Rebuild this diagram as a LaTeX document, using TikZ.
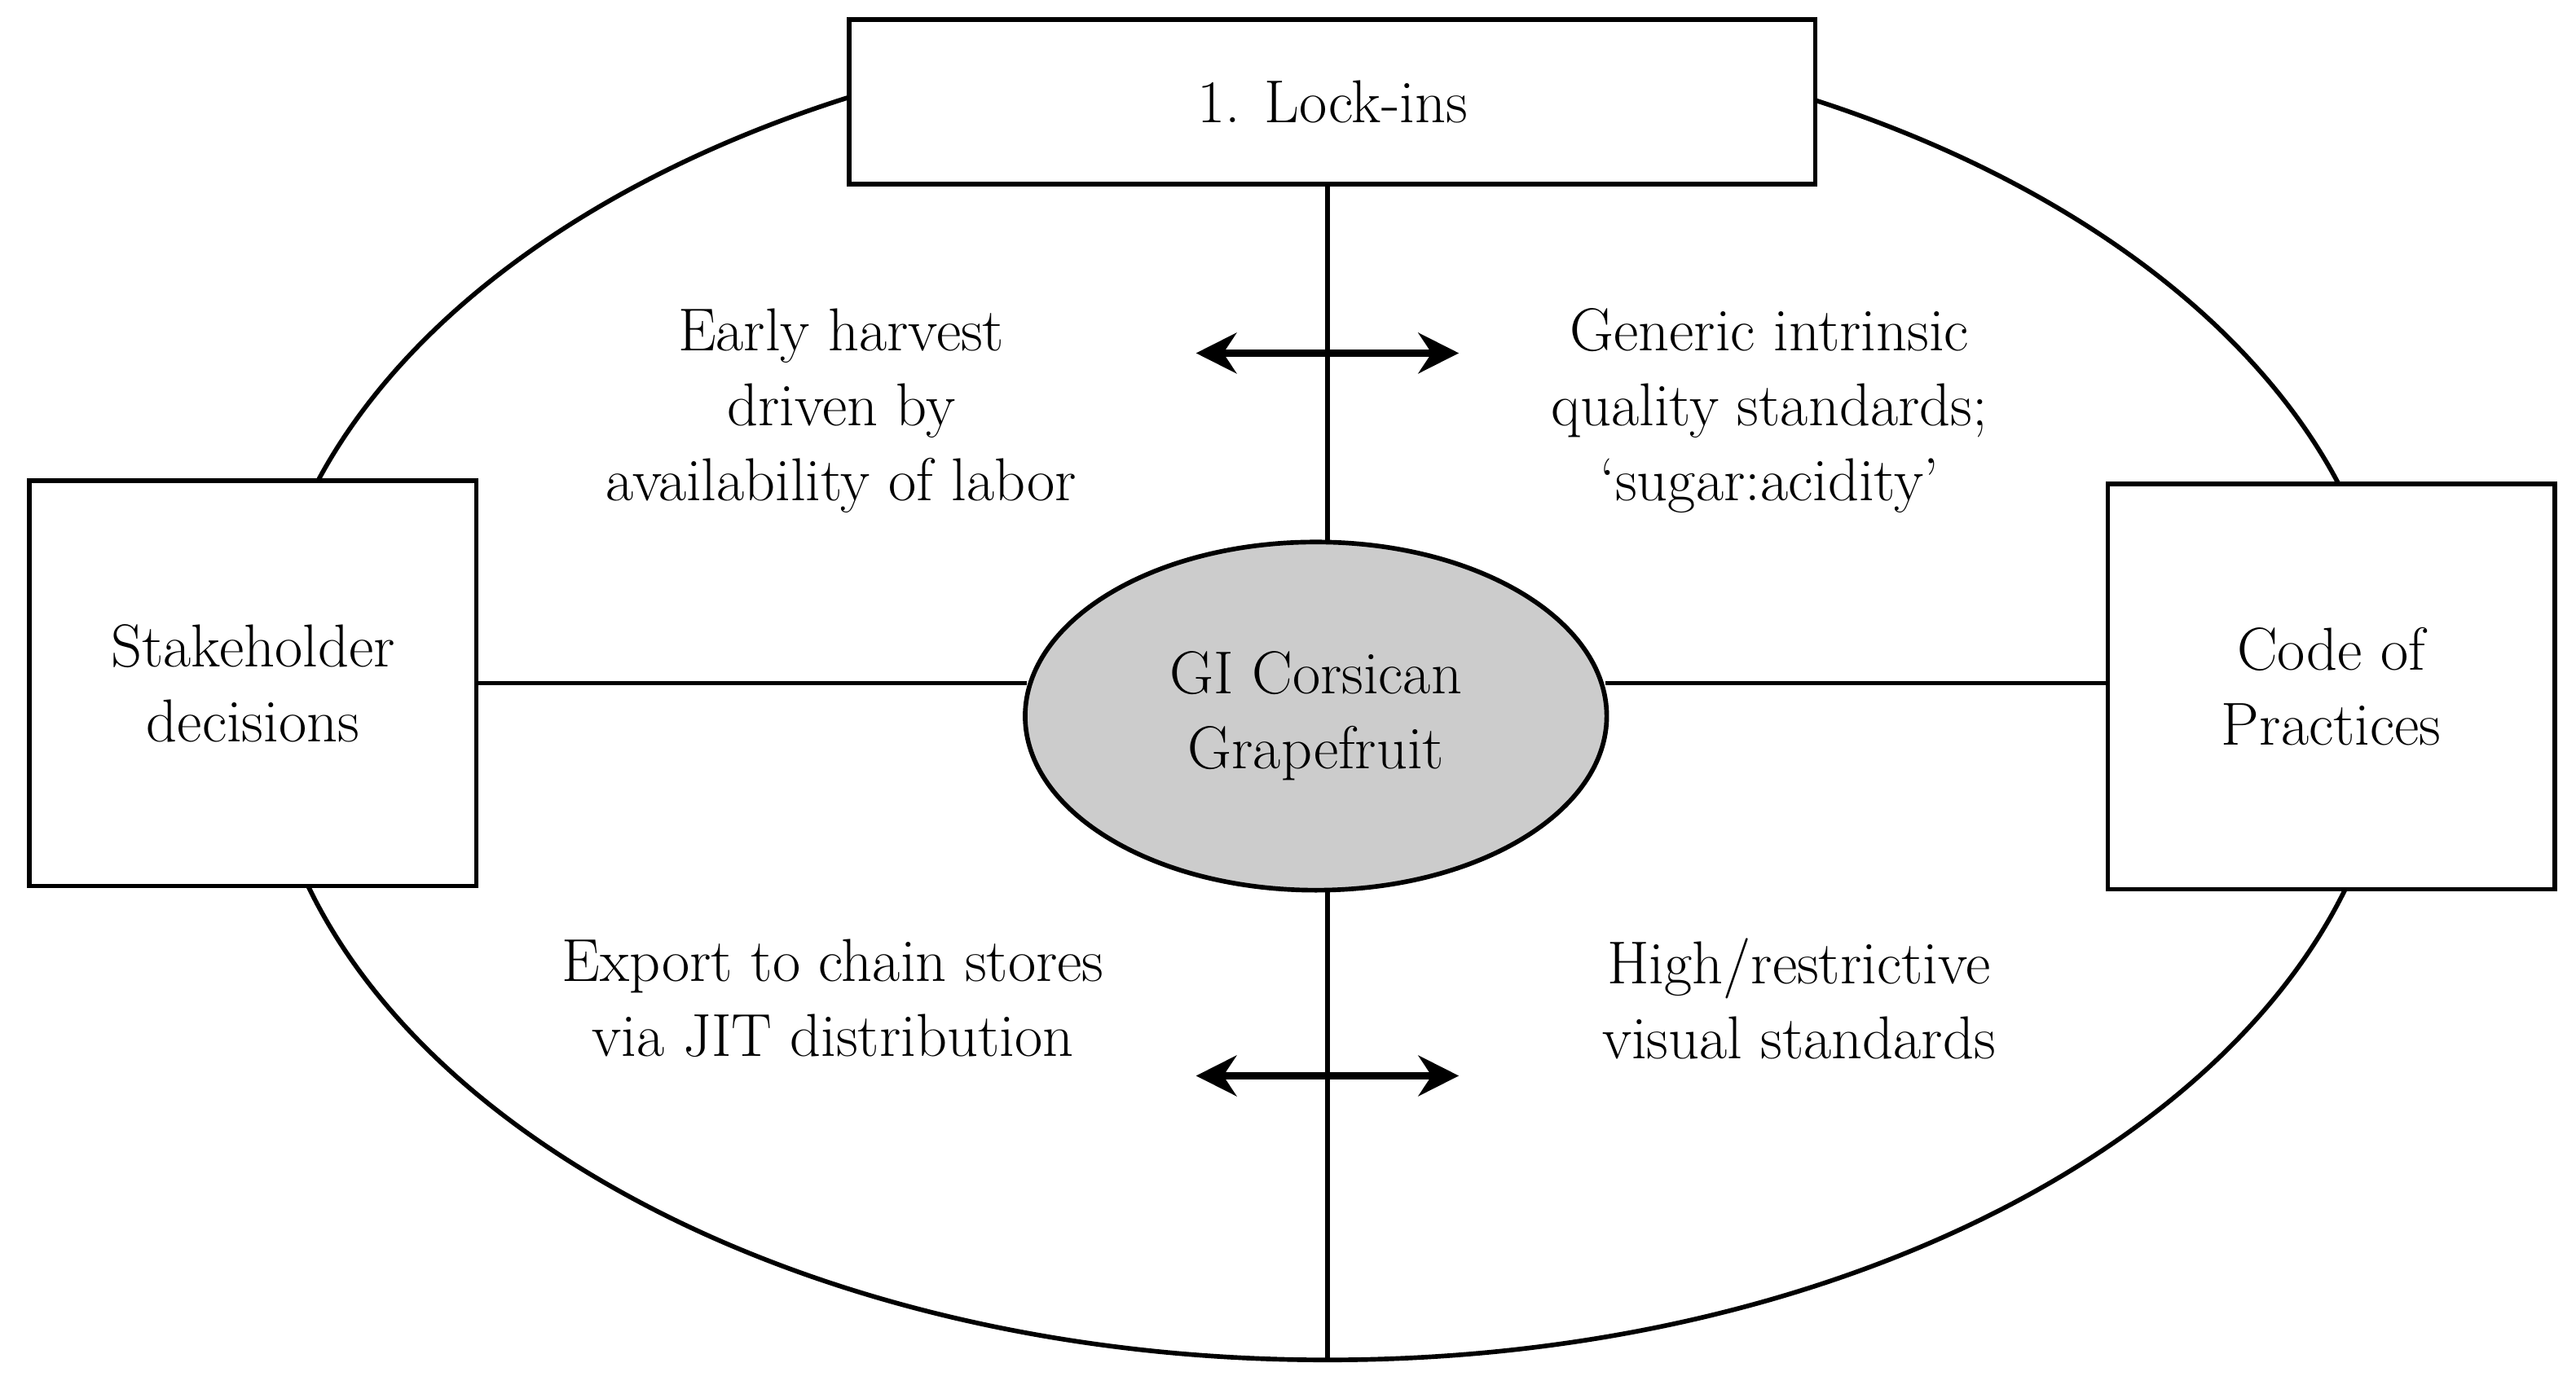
\documentclass[tikz,border=0pt]{standalone}
\usetikzlibrary{shapes.geometric,arrows.meta}
\begin{document}
\begin{tikzpicture}[x=0.02cm,y=-0.02cm,
  every node/.style={font=\fontsize{21}{26}\selectfont},
  ln/.style={line width=1.6pt},
  box/.style={draw,line width=1.6pt,fill=white,align=center,inner sep=0pt},
  lbl/.style={align=center},
  dbl/.style={line width=2.6pt,{Stealth[length=14pt,width=14pt]}-{Stealth[length=14pt,width=14pt]}}]
\useasboundingbox (0,0) rectangle (1568,843);
\draw[ln] (808,422) ellipse [x radius=648, y radius=406];
\coordinate (bot) at (808,828);
\node[box,minimum width=588*0.02cm,minimum height=100*0.02cm] (lock) at (811,62) {1. Lock-ins};
\node[box,minimum width=272*0.02cm,minimum height=247*0.02cm] (stake) at (154,416) {Stakeholder\\decisions};
\node[box,minimum width=272*0.02cm,minimum height=247*0.02cm] (code) at (1419,418) {Code of\\Practices};
\node[draw,ellipse,line width=1.6pt,fill=black!20,minimum width=354*0.02cm,minimum height=212*0.02cm,align=center,inner sep=0pt] (gi) at (801,436) {GI Corsican\\Grapefruit};
\draw[ln] (lock.south -| 808,0) -- (808,331);
\draw[ln] (808,541) -- (bot);
\draw[ln] (stake.east |- 0,416) -- (625,416);
\draw[ln] (977,416) -- (code.west |- 0,416);
\coordinate (a1) at (728,215); \coordinate (a2) at (888,215);
\coordinate (b1) at (728,655); \coordinate (b2) at (888,655);
\draw[dbl] (a1) -- (a2);
\draw[dbl] (b1) -- (b2);
\node[lbl] (t1) at (512,250) {Early harvest\\driven by\\availability of labor};
\node[lbl] (t2) at (1077,250) {Generic intrinsic\\quality standards;\\`sugar:acidity'};
\node[lbl] (t3) at (507,608) {Export to chain stores\\via JIT distribution};
\node[lbl] (t4) at (1095,608) {High/restrictive\\visual standards};
\end{tikzpicture}
\end{document}
